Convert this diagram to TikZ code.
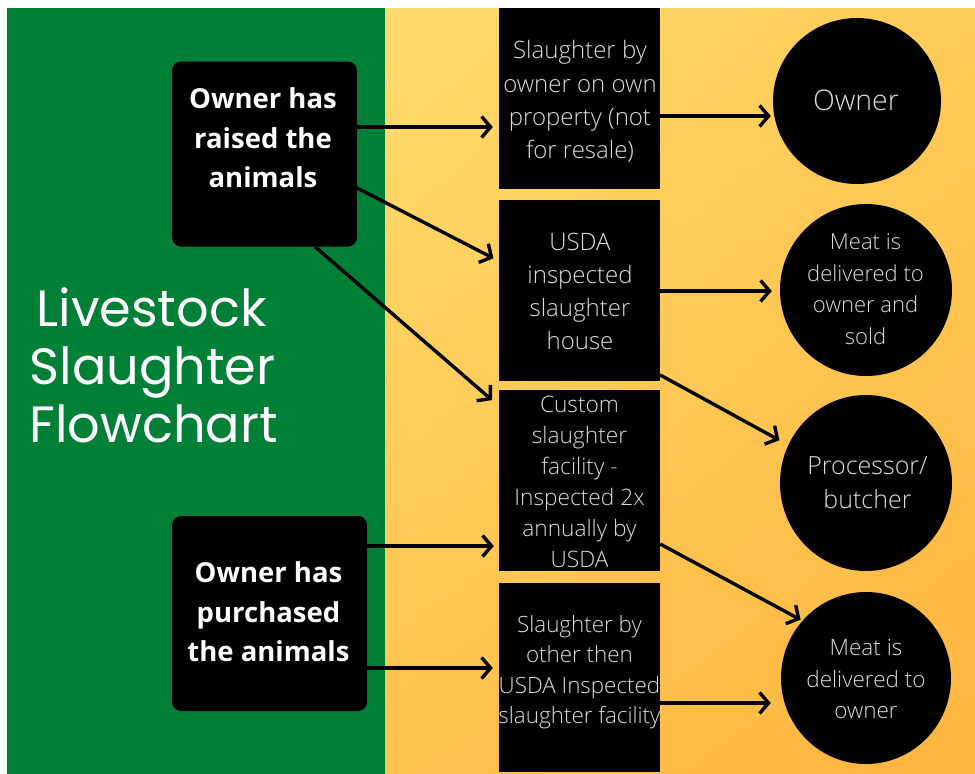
\documentclass[tikz,border=0pt]{standalone}
\usepackage{fontspec}
\setmainfont{Open Sans}
\newfontfamily\titlefont{Poppins}
\newfontfamily\thinfont{Open Sans Light}
\usetikzlibrary{arrows.meta,shapes.geometric,calc,shadings}
\definecolor{leafgreen}{HTML}{008037}
\definecolor{ylA}{HTML}{FFDC6E}
\definecolor{ylB}{HTML}{FFCB58}
\definecolor{ylC}{HTML}{FFC24D}
\definecolor{ylD}{HTML}{FFB53F}
\definecolor{softtext}{HTML}{DCDCDC}
\tikzset{
  stepbox/.style={fill=black, rectangle, inner sep=0pt, minimum width=161pt},
  startbox/.style={fill=black, rectangle, rounded corners=9pt, inner sep=0pt},
  endcirc/.style={fill=black, ellipse, inner sep=0pt},
  lighttxt/.style={text=softtext, align=center, font=\thinfont\fontsize{22.5}{33}\selectfont},
  boldtxt/.style={text=white, align=center, font=\bfseries\fontsize{27.5}{39.5}\selectfont},
  flow/.style={line width=3.4pt, -{Straight Barb[length=9pt,width=21pt,line width=3.4pt]}},
}
\begin{document}
\begin{tikzpicture}[x=1pt,y=-1pt]
\useasboundingbox (0,0) rectangle (975,774);
\fill[white] (0,0) rectangle (975,774);
\fill[leafgreen] (7,8) rectangle (385,774);
\shade[upper left=ylA, upper right=ylB, lower left=ylC, lower right=ylD] (385,8) rectangle (975,774);

% title
\node[text=white, align=left, anchor=west, font=\titlefont\fontsize{51}{58}\selectfont] (title) at (26,365) {\hspace*{7pt}Livestock\\Slaughter\\Flowchart};

% start boxes
\node[startbox, minimum width=185pt, minimum height=185pt] (A) at (264.5,154) {};
\node[boldtxt] (Atxt) at (263,138) {Owner has\\raised the\\animals};
\node[startbox, minimum width=195pt, minimum height=195pt] (P) at (269.5,613.5) {};
\node[boldtxt] (Ptxt) at (268.5,612) {Owner has\\purchased\\the animals};

% step boxes
\node[stepbox, minimum height=181pt] (B1) at (579.5,98.5) {};
\node[lighttxt, font=\thinfont\fontsize{24}{33.4}\selectfont] (B1t) at (580,101.5) {Slaughter by\\owner on own\\property (not\\for resale)};
\node[stepbox, minimum height=181pt] (B2) at (579.5,290.5) {};
\node[lighttxt, font=\thinfont\fontsize{24}{33}\selectfont] (B2t) at (580,291.5) {USDA\\inspected\\slaughter\\house};
\node[stepbox, minimum height=181pt] (B3) at (579.5,480.5) {};
\node[lighttxt, font=\thinfont\fontsize{22.7}{31}\selectfont] (B3t) at (579.5,481.5) {Custom\\slaughter\\facility -\\Inspected 2x\\annually by\\USDA};
\node[stepbox, minimum height=189pt] (B4) at (579.5,677.5) {};
\node[lighttxt, font=\thinfont\fontsize{22.4}{30.5}\selectfont] (B4t) at (579.5,672) {Slaughter by\\other then\\USDA Inspected\\slaughter facility};

% end circles
\node[endcirc, minimum width=168pt, minimum height=166pt] (C1) at (857,101) {};
\node[lighttxt, font=\thinfont\fontsize{28.5}{34}\selectfont] (C1t) at (856,100) {Owner};
\node[endcirc, minimum width=172pt, minimum height=172pt] (C2) at (866,290) {};
\node[lighttxt, font=\thinfont\fontsize{22}{31.5}\selectfont] (C2t) at (865.5,289) {Meat is\\delivered to\\owner and\\sold};
\node[endcirc, minimum width=172pt, minimum height=176pt] (C3) at (866,483) {};
\node[lighttxt, font=\thinfont\fontsize{25}{34}\selectfont] (C3t) at (867.5,483) {Processor/\\butcher};
\node[endcirc, minimum width=170pt, minimum height=172pt] (C4) at (866,678) {};
\node[lighttxt, font=\thinfont\fontsize{22.5}{31.5}\selectfont] (C4t) at (866,679) {Meat is\\delivered to\\owner};

% connectors
\draw[flow, shorten >=6pt] (A.east |- 0,127) -- (B1.west |- 0,127);
\draw[flow, shorten >=6pt] (A.east |- 0,188) -- (B2.west |- 0,261);
\draw[flow, shorten >=9pt] (A.south -| 315,0) -- (B3.west |- 0,406);
\draw[flow, shorten >=5pt] (P.east |- 0,546) -- (B3.west |- 0,546);
\draw[flow, shorten >=6pt] (P.east |- 0,668) -- (B4.west |- 0,668);
\draw[flow, shorten >=2pt] (B1.east |- 0,116) -- (C1.west |- 0,116);
\draw[flow, shorten >=8pt] (B2.east |- 0,291) -- (C2.west |- 0,291);
\draw[flow, shorten >=10pt] (B2.east |- 0,375) -- (C3.154);
\draw[flow, shorten >=2pt] (B3.east |- 0,544) -- (C4.138);
\draw[flow, shorten >=10pt] (B4.east |- 0,703) -- (C4.west |- 0,703);
\end{tikzpicture}
\end{document}
